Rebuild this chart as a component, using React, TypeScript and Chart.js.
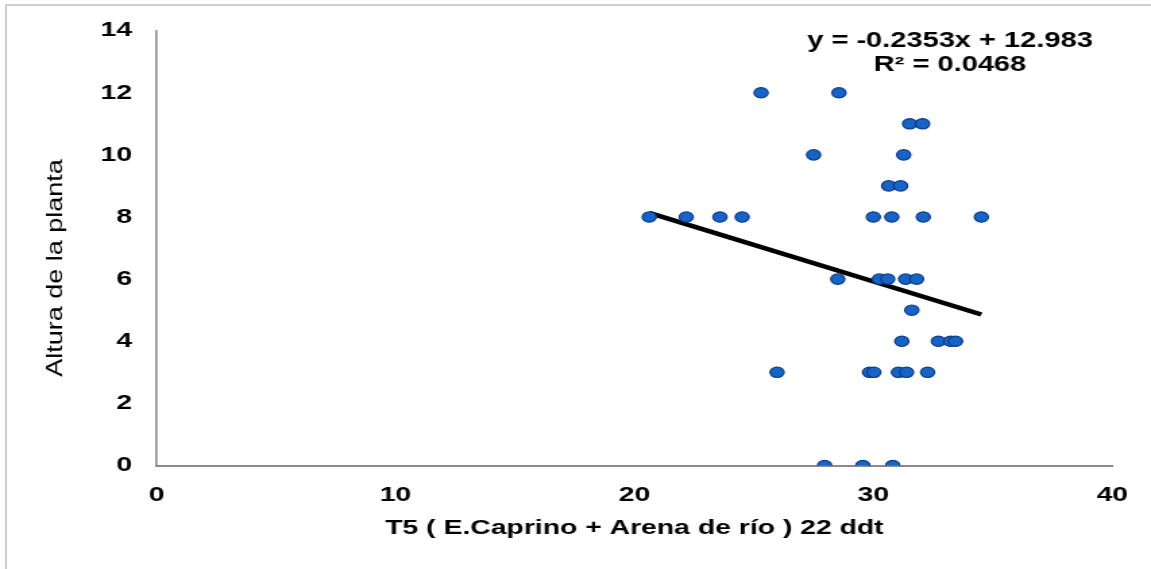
import React, { useEffect, useRef } from 'react';
import { Chart, registerables } from 'chart.js';

Chart.register(...registerables);

// ---- data ----
const xValues = [
  25.30, 28.56,
  31.52, 32.06,
  27.50, 31.27,
  30.64, 31.14,
  20.62, 22.17, 23.58, 24.51, 30.00, 30.77, 32.09, 34.52,
  28.51, 30.25, 30.60, 31.35, 31.81,
  31.61,
  31.19, 32.72, 33.23, 33.44,
  25.97, 29.84, 30.02, 31.05, 31.39, 32.27,
  27.96, 29.56, 30.81,
];
const yValues = [
  12, 12,
  11, 11,
  10, 10,
  9, 9,
  8, 8, 8, 8, 8, 8, 8, 8,
  6, 6, 6, 6, 6,
  5,
  4, 4, 4, 4,
  3, 3, 3, 3, 3, 3,
  0, 0, 0,
];
const xTicks = [0, 10, 20, 30, 40];
const yTicks = [0, 2, 4, 6, 8, 10, 12, 14];
const slope = -0.2353;
const intercept = 12.983;
const rSquared = 0.0468;
const xTitle = 'T5 ( E.Caprino + Arena de río ) 22 ddt';
const yTitle = 'Altura de la planta';

// ---- layout ----
const PAGE_W = 1151;
const PAGE_H = 569;
const CANVAS_W = 853; // drawn narrower, stretched horizontally like the reference
const SX = PAGE_W / CANVAS_W;
const FONT = '"Liberation Sans", Arial, sans-serif';

const textPlugin = {
  id: 'extraText',
  afterDraw(chart: any) {
    const ctx = chart.ctx as CanvasRenderingContext2D;
    // regression equation
    ctx.save();
    ctx.fillStyle = '#000';
    ctx.textAlign = 'center';
    ctx.textBaseline = 'middle';
    ctx.font = `bold 21.5px ${FONT}`;
    ctx.fillText(`y = ${slope}x + ${intercept}`, 950 / SX, 41);
    ctx.fillText(`R² = ${rSquared}`, 950 / SX, 65.5);
    ctx.restore();
    // y axis title (drawn un-stretched)
    ctx.save();
    ctx.fillStyle = '#000';
    ctx.translate(55.5 / SX, 268);
    ctx.scale(0.84 / SX, 1);
    ctx.rotate(-Math.PI / 2);
    ctx.textAlign = 'center';
    ctx.textBaseline = 'middle';
    ctx.font = `27px ${FONT}`;
    ctx.fillText(yTitle, 0, 0);
    ctx.restore();
  },
};

export default function App() {
  const ref = useRef<HTMLCanvasElement | null>(null);

  useEffect(() => {
    if (!ref.current) return;
    const points = xValues.map((x, i) => ({ x, y: yValues[i] }));
    const xMin = Math.min(...xValues);
    const xMax = Math.max(...xValues);
    const trend = [
      { x: xMin, y: slope * xMin + intercept },
      { x: xMax, y: slope * xMax + intercept },
    ];
    const tickFont = { family: FONT, size: 21, weight: 'bold' as const };

    const chart = new Chart(ref.current, {
      type: 'scatter',
      data: {
        datasets: [
          {
            type: 'line',
            label: 'Tendencia',
            data: trend,
            borderColor: '#000',
            borderWidth: 4.5,
            pointRadius: 0,
            fill: false,
            order: 2,
          } as any,
          {
            label: 'Altura',
            data: points,
            backgroundColor: '#1763c6',
            borderColor: '#0b3d88',
            borderWidth: 1.2,
            pointRadius: 5.2,
            pointHoverRadius: 5.2,
            order: 1,
          },
        ],
      },
      options: {
        responsive: false,
        animation: false,
        devicePixelRatio: 1,
        layout: { padding: { left: 0, right: CANVAS_W - 1115.5 / SX, top: 30, bottom: 0 } },
        plugins: {
          legend: { display: false },
          tooltip: { enabled: false },
        },
        scales: {
          x: {
            type: 'linear',
            min: xTicks[0],
            max: xTicks[xTicks.length - 1],
            afterBuildTicks: (scale: any) => {
              scale.ticks = xTicks.map((v) => ({ value: v }));
            },
            afterFit: (scale: any) => {
              scale.height = PAGE_H - 465.5;
            },
            grid: { display: false, drawTicks: false },
            border: { display: true, color: '#8a8a8a', width: 2 },
            ticks: { color: '#000', font: tickFont, padding: 17, maxRotation: 0 },
            title: {
              display: true,
              text: xTitle,
              color: '#000',
              font: { family: FONT, size: 21, weight: 'bold' },
              padding: { top: 0, bottom: 28 },
            },
          },
          y: {
            type: 'linear',
            min: yTicks[0],
            max: yTicks[yTicks.length - 1],
            afterBuildTicks: (scale: any) => {
              scale.ticks = yTicks.map((v) => ({ value: v }));
            },
            afterFit: (scale: any) => {
              scale.width = 156.5 / SX;
            },
            grid: { display: false, drawTicks: false },
            border: { display: true, color: '#8a8a8a', width: 1.6 },
            ticks: { color: '#000', font: tickFont, padding: 18 },
            title: { display: false },
          },
        },
      },
      plugins: [textPlugin],
    });
    return () => chart.destroy();
  }, []);

  return (
    <div style={{ position: 'absolute', left: 0, top: 0, width: PAGE_W, height: PAGE_H, background: '#fff' }}>
      <div
        style={{
          position: 'absolute',
          left: 5,
          top: 4,
          width: PAGE_W - 5,
          height: PAGE_H - 4,
          boxSizing: 'border-box',
          borderTop: '2px solid #cfcfcf',
          borderLeft: '2px solid #cfcfcf',
        }}
      />
      <canvas
        ref={ref}
        width={CANVAS_W}
        height={PAGE_H}
        style={{ position: 'absolute', left: 0, top: 0, width: PAGE_W + 'px', height: PAGE_H + 'px' }}
      />
    </div>
  );
}
